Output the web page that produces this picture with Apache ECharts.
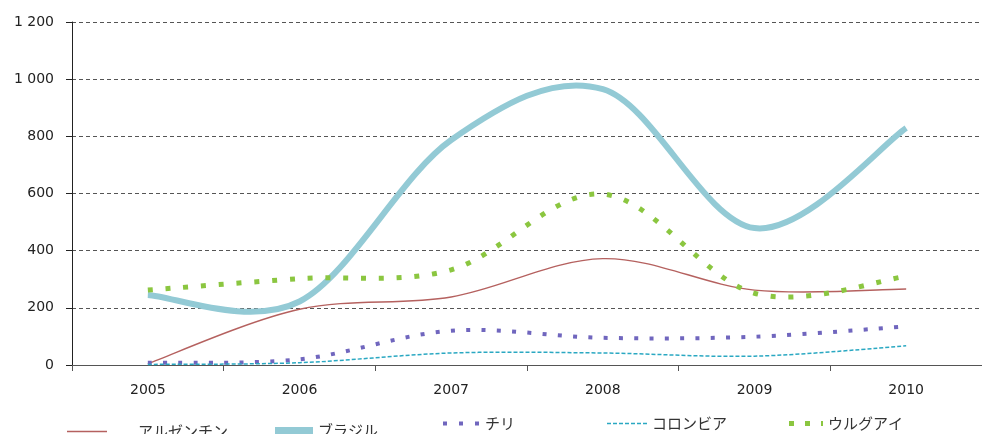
<!DOCTYPE html>
<html>
<head>
<meta charset="utf-8">
<script src="https://cdn.jsdelivr.net/npm/echarts@6/dist/echarts.min.js"></script>
<style>
  html, body { margin: 0; padding: 0; background: #fff; }
  #chart { width: 982px; height: 434px; }
</style>
</head>
<body>
<div id="chart"></div>
<script>
// Years on the category axis
var years = ['2005', '2006', '2007', '2008', '2009', '2010'];

// Series names (legend labels)
var names = ['アルゼンチン', 'ブラジル', 'チリ', 'コロンビア', 'ウルグアイ'];

// Values per country, one per year
var argentina = [5, 195, 238, 372, 262, 266];
var brasil = [245, 222, 787, 965, 479, 829];
var chile = [8, 20, 120, 95, 99, 135];
var colombia = [2, 8, 42, 42, 31, 67];
var uruguay = [262, 302, 333, 598, 251, 310];

// Value axis range
var yMin = 0, yMax = 1200, yStep = 200;

var fontLatin = '"DejaVu Sans", "Liberation Sans", sans-serif';
var fontJp = '"Noto Sans CJK JP", sans-serif';

function thousands(v) {
  return String(v).replace(/\B(?=(\d{3})+(?!\d))/g, ' ');
}

// Smooth curve through the projected points (Catmull-Rom converted to cubic Bezier)
function smoothPath(pts) {
  var d = 'M' + pts[0][0] + ',' + pts[0][1];
  for (var i = 0; i < pts.length - 1; i++) {
    var p0 = pts[i - 1] || pts[i];
    var p1 = pts[i];
    var p2 = pts[i + 1];
    var p3 = pts[i + 2] || pts[i + 1];
    var c1x = p1[0] + (p2[0] - p0[0]) / 6;
    var c1y = p1[1] + (p2[1] - p0[1]) / 6;
    var c2x = p2[0] - (p3[0] - p1[0]) / 6;
    var c2y = p2[1] - (p3[1] - p1[1]) / 6;
    d += ' C' + c1x + ',' + c1y + ' ' + c2x + ',' + c2y + ' ' + p2[0] + ',' + p2[1];
  }
  return d;
}

function curveSeries(name, values, color, width, dash) {
  return {
    name: name,
    type: 'custom',
    coordinateSystem: 'cartesian2d',
    itemStyle: { color: color },
    data: values.map(function (v, i) { return [i, v]; }),
    encode: { x: 0, y: 1 },
    renderItem: function (params, api) {
      if (params.dataIndex !== 0) return null;
      var pts = values.map(function (v, i) { return api.coord([i, v]); });
      return {
        type: 'path',
        shape: { pathData: smoothPath(pts) },
        style: {
          fill: null,
          stroke: color,
          lineWidth: width,
          lineDash: dash || null,
          lineCap: 'butt',
          lineJoin: 'round'
        }
      };
    }
  };
}

// Legend swatch made of n blocks (w x h) repeated every `step` px; last block may be narrower
function blocks(n, w, h, step, lastW) {
  var d = '';
  for (var i = 0; i < n; i++) {
    var bw = (i === n - 1 && lastW) ? lastW : w;
    d += 'M' + (i * step) + ',0h' + bw + 'v' + h + 'h-' + bw + 'Z ';
  }
  return 'path://' + d;
}

function legendFor(name, icon, w, h, left, top, gap) {
  return {
    data: [{ name: name, icon: icon }],
    left: left,
    top: top,
    itemWidth: w,
    itemHeight: h,
    padding: 0,
    selectedMode: false,
    textStyle: {
      fontFamily: fontJp,
      fontSize: 15,
      color: '#333',
      padding: [0, 0, 0, gap]
    }
  };
}

var chart = echarts.init(document.getElementById('chart'), null, { renderer: 'canvas' });

chart.setOption({
  animation: false,
  backgroundColor: '#fff',
  grid: { left: 72, top: 22, bottom: 69, width: 919, containLabel: false },
  legend: [
    legendFor(names[0], 'path://M0,0H40V1.5H0Z', 40, 1.5, 67, 424, 26),
    legendFor(names[1], 'path://M0,0H38V7H0Z', 38, 7, 275, 423, 0),
    legendFor(names[2], blocks(3, 4, 4, 16), 36, 4, 443, 416, 1),
    legendFor(names[3], blocks(7, 4, 1.5, 6), 40, 1.5, 607, 416, 0),
    legendFor(names[4], blocks(3, 5, 5, 16, 2), 34, 5, 789, 416, 0)
  ],
  xAxis: {
    type: 'category',
    data: years,
    boundaryGap: true,
    axisLine: { lineStyle: { color: '#555', width: 1 } },
    axisTick: { show: true, interval: 0, length: 6, lineStyle: { color: '#555' } },
    axisLabel: { color: '#222', fontFamily: fontLatin, fontSize: 14, margin: 18 },
    splitLine: { show: false }
  },
  yAxis: {
    type: 'value',
    min: yMin,
    max: yMax,
    interval: yStep,
    axisLine: { show: true, lineStyle: { color: '#222', width: 1 } },
    axisTick: { show: true, length: 6, lineStyle: { color: '#222' } },
    axisLabel: {
      color: '#222', fontFamily: fontLatin, fontSize: 14, margin: 18,
      formatter: thousands
    },
    splitLine: { show: true, lineStyle: { color: '#555', width: 1, type: [4, 3] } }
  },
  series: [
    curveSeries(names[0], argentina, '#B5615F', 1.4),
    curveSeries(names[1], brasil, '#93CAD5', 6),
    curveSeries(names[2], chile, '#7066BE', 4, [4, 11.3]),
    curveSeries(names[3], colombia, '#2AA8C2', 1.5, [4, 2]),
    curveSeries(names[4], uruguay, '#8BC640', 5, [5, 12.8])
  ]
});
</script>
</body>
</html>
